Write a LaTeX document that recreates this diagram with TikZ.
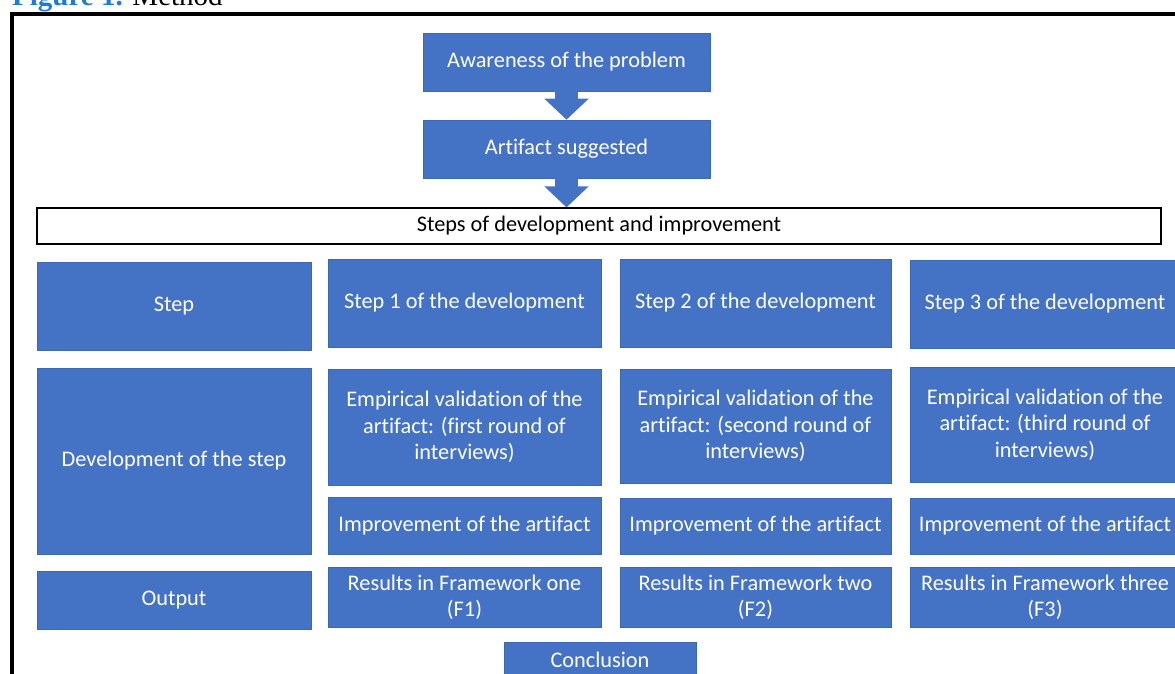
\documentclass[tikz,border=0pt]{standalone}
\usepackage{fontspec}
\setmainfont{Carlito}[Ligatures={NoCommon,NoRequired,NoContextual}]
\newfontfamily\figfont{Liberation Serif}
\usetikzlibrary{arrows.meta}
\definecolor{boxblue}{HTML}{4472C4}
\definecolor{boxedge}{HTML}{3C67B4}
\definecolor{figblue}{HTML}{1F7BD8}
\tikzset{
  bx/.style={fill=boxblue, draw=boxedge, line width=0.6pt, inner sep=0pt,
    text=white, align=center, font=\fontsize{22.3}{26.5}\selectfont},
  wbox/.style={fill=white, draw=black, line width=1.2pt, inner sep=0pt,
    text=black, align=center, font=\fontsize{22.3}{26}\selectfont},
  blockarrow/.style={draw=boxblue, line width=23pt,
    -{Triangle[width=43pt,length=21pt]}, color=boxblue}
}
\begin{document}
\begin{tikzpicture}[x=1pt,y=-1pt]
\useasboundingbox (0,0) rectangle (1175,673);
% caption (cut off at top)
\node[anchor=base west, inner sep=0pt, font=\figfont\fontsize{29}{34}\selectfont] (cap) at (12,5)
  {\textcolor{figblue}{\bfseries Figure 1.} Method};
% frame
\draw[line width=4pt] (12,690) -- (12,14) -- (1190,14);
% top boxes
\node[bx, minimum width=287pt, minimum height=58pt] (aw) at (566.5,62) {Awareness of the problem};
\node[bx, minimum width=287pt, minimum height=58pt] (art) at (566.5,149) {Artifact suggested};
\node[wbox, minimum width=1124pt, minimum height=36pt] (steps) at (599,226) {Steps of development and improvement};
% arrows
\draw[blockarrow] (aw.south) -- (art.north);
\draw[blockarrow] (art.south) -- (art.south |- steps.north);
% row 1
\node[bx, minimum width=274pt, minimum height=88pt] (stepl) at (174,306) {Step};
\node[bx, minimum width=273pt, minimum height=88pt] (s1) at (464.5,303) {Step 1 of the development};
\node[bx, minimum width=271pt, minimum height=88pt] (s2) at (755.5,303) {Step 2 of the development};
\node[bx, minimum width=270pt, minimum height=88pt] (s3) at (1045,304) {Step 3 of the development};
% row 2
\node[bx, minimum width=274pt, minimum height=186pt] (dev) at (174,461) {Development of the step};
\node[bx, minimum width=273pt, minimum height=116pt] (e1) at (464.5,427) {Empirical validation of the\\artifact: (first round of\\interviews)};
\node[bx, minimum width=271pt, minimum height=114pt] (e2) at (755.5,426) {Empirical validation of the\\artifact: (second round of\\interviews)};
\node[bx, minimum width=270pt, minimum height=115pt] (e3) at (1045,424.5) {Empirical validation of the\\artifact: (third round of\\interviews)};
\node[bx, minimum width=273pt, minimum height=57pt] (i1) at (464.5,525.5) {Improvement of the artifact};
\node[bx, minimum width=271pt, minimum height=56pt] (i2) at (755.5,526) {Improvement of the artifact};
\node[bx, minimum width=270pt, minimum height=56pt] (i3) at (1045,526) {Improvement of the artifact};
% row 3
\node[bx, minimum width=274pt, minimum height=58pt] (out) at (174,600) {Output};
\node[bx, minimum width=273pt, minimum height=60pt] (r1) at (464.5,597.5) {Results in Framework one\\(F1)};
\node[bx, minimum width=271pt, minimum height=60pt] (r2) at (755.5,597.5) {Results in Framework two\\(F2)};
\node[bx, minimum width=270pt, minimum height=60pt] (r3) at (1045,597.5) {Results in Framework three\\(F3)};
% conclusion
\node[bx, minimum width=192pt, minimum height=36pt] (con) at (600,660) {Conclusion};
\end{tikzpicture}
\end{document}
